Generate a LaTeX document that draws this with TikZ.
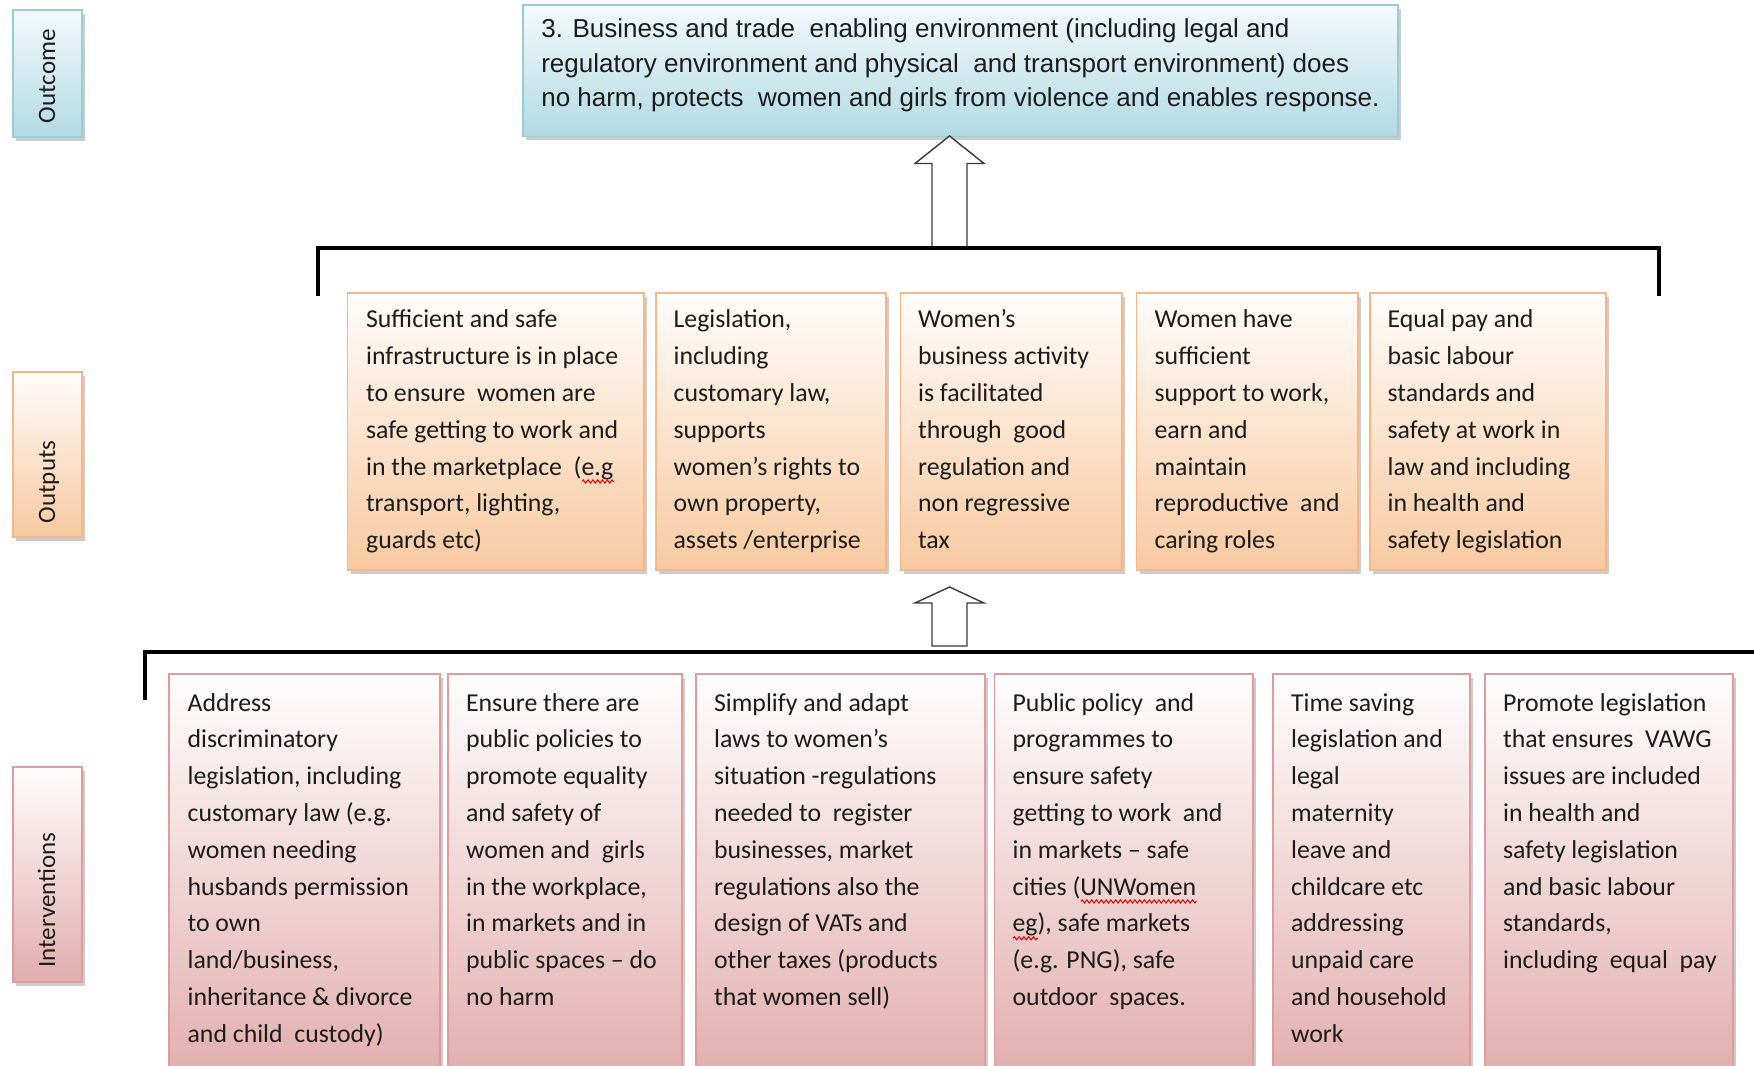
\documentclass[tikz,border=0pt]{standalone}
\usepackage{fontspec}
\setmainfont{Carlito}
\newfontfamily\arialfont{Liberation Sans}
\usetikzlibrary{shadows,fit,decorations.pathmorphing}
\definecolor{bluetop}{HTML}{F3FAFC}
\definecolor{bluebot}{HTML}{B2DAE4}
\definecolor{blueborder}{HTML}{9CCBD8}
\definecolor{peachtop}{HTML}{FFFDFB}
\definecolor{peachbot}{HTML}{F8C9A0}
\definecolor{peachborder}{HTML}{F3B78A}
\definecolor{pinktop}{HTML}{FFFEFE}
\definecolor{pinkbot}{HTML}{E2ACAC}
\definecolor{pinkborder}{HTML}{DE9C9C}
\definecolor{txt}{HTML}{1C1C1C}
\definecolor{arrowgray}{HTML}{3A3A3A}
\definecolor{wavered}{HTML}{E00000}
\newdimen\wavewd
\newcommand\redwave[1]{\setbox0\hbox{#1}\wavewd=\wd0\relax\rlap{\tikz[x=1pt,y=1pt,baseline=0pt]\draw[wavered,line width=0.5pt,decorate,decoration={zigzag,segment length=2.4pt,amplitude=0.8pt}] (0pt,-3.2pt) -- (\wavewd,-3.2pt);}#1}
\begin{document}
\begin{tikzpicture}[x=0.5pt,y=-0.5pt,
  shadowed/.style={drop shadow={shadow xshift=1.6pt,shadow yshift=-1.8pt,fill=black,opacity=0.2}},
  basebox/.style={rectangle,inner sep=0pt,line width=0.8pt,shadowed},
  bluebox/.style={basebox,draw=blueborder,top color=bluetop,bottom color=bluebot},
  peachbox/.style={basebox,draw=peachborder,top color=peachtop,bottom color=peachbot},
  pinkbox/.style={basebox,draw=pinkborder,top color=pinktop,bottom color=pinkbot},
  boxtext/.style={inner sep=0pt,align=left,anchor=north west,text=txt,font=\fontsize{12.9}{18.4}\selectfont},
  outtext/.style={inner sep=0pt,align=left,anchor=north west,text=txt,font=\arialfont\fontsize{13}{17.1}\selectfont},
  sidetext/.style={inner sep=0pt,rotate=90,anchor=base west,text=txt,font=\fontsize{12.5}{15}\selectfont},
  bracketline/.style={line width=2.4pt,black,line join=miter},
  blockarrow/.style={draw=arrowgray,fill=white,line width=0.7pt,line join=miter}
]
\clip (0,0) rectangle (1754,1065);
\fill[white] (0,0) rectangle (1754,1065);

% side labels
\node[bluebox,fit={(12.7,10) (82,137)}] (lOutcome) {};
\node[sidetext] (lOutcomeT) at (55,123.5) {Outcome};
\node[peachbox,fit={(12.7,372) (82,537)}] (lOutputs) {};
\node[sidetext] (lOutputsT) at (55,523.5) {Outputs};
\node[pinkbox,fit={(12.7,767) (82,982)}] (lInterv) {};
\node[sidetext] (lIntervT) at (55,968) {Interventions};

% outcome box
\node[bluebox,fit={(523,5) (1398,136.5)}] (oc) {};
\node[outtext] (ocT) at ([shift={(18.7,9.4)}]oc.north west) {\strut 3. Business and trade \ enabling environment (including legal and\\
regulatory environment and physical \ and transport environment) does\\
no harm, protects \ women and girls from violence and enables response.};

% arrows
\coordinate (a1tip) at (949.5,136);
\coordinate (a1foot) at (949.5,248);
\draw[blockarrow] (932,248) -- (932,163.5) -- (915,163.5) -- (a1tip) -- (984,163.5) -- (967,163.5) -- (967,248);
\coordinate (a2tip) at (949.5,587);
\draw[blockarrow] (932,646) -- (932,603) -- (915,603) -- (a2tip) -- (984,603) -- (967,603) -- (967,646) -- cycle;

% brackets
\draw[bracketline] (318,296) -- (318,248) -- (1659,248) -- (1659,296);
\draw[bracketline] (145,700) -- (145,652) -- (1760,652);

% outputs
\node[peachbox,fit={(347.5,293) (644,570)}] (o1) {};
\node[boxtext] (o1t) at ([shift={(19,9.5)}]o1.north west) {\strut Sufficient and safe\\
infrastructure is in place\\
to ensure \ women are\\
safe getting to work and\\
in the marketplace \ (\redwave{e.g}\\
transport, lighting,\\
guards etc)};
\node[peachbox,fit={(656,293) (886,570)}] (o2) {};
\node[boxtext] (o2t) at ([shift={(18,9.5)}]o2.north west) {\strut Legislation,\\
including\\
customary law,\\
supports\\
women’s rights to\\
own property,\\
assets /enterprise};
\node[peachbox,fit={(900.5,293) (1122,570)}] (o3) {};
\node[boxtext] (o3t) at ([shift={(18,9.5)}]o3.north west) {\strut Women’s\\
business activity\\
is facilitated\\
through \ good\\
regulation and\\
non regressive\\
tax};
\node[peachbox,fit={(1136.5,293) (1358,570)}] (o4) {};
\node[boxtext] (o4t) at ([shift={(18.5,9.5)}]o4.north west) {\strut Women have\\
sufficient\\
support to work,\\
earn and\\
maintain\\
reproductive \ and\\
caring roles};
\node[peachbox,fit={(1370,293) (1606,570)}] (o5) {};
\node[boxtext] (o5t) at ([shift={(18,9.5)}]o5.north west) {\strut Equal pay and\\
basic labour\\
standards and\\
safety at work in\\
law and including\\
in health and\\
safety legislation};

% interventions
\node[pinkbox,fit={(169,674) (440,1085)}] (i1) {};
\node[boxtext] (i1t) at ([shift={(19,11.7)}]i1.north west) {\strut Address\\
discriminatory\\
legislation, including\\
customary law (e.g.\\
women needing\\
husbands permission\\
to own\\
land/business,\\
inheritance \& divorce\\
and child \ custody)};
\node[pinkbox,fit={(448,674) (682,1085)}] (i2) {};
\node[boxtext] (i2t) at ([shift={(18.5,11.7)}]i2.north west) {\strut Ensure there are\\
public policies to\\
promote equality\\
and safety of\\
women and \ girls\\
in the workplace,\\
in markets and in\\
public spaces – do\\
no harm};
\node[pinkbox,fit={(696,674) (985,1085)}] (i3) {};
\node[boxtext] (i3t) at ([shift={(18.5,11.7)}]i3.north west) {\strut Simplify and adapt\\
laws to women’s\\
situation -regulations\\
needed to \ register\\
businesses, market\\
regulations also the\\
design of VATs and\\
other taxes (products\\
that women sell)};
\node[pinkbox,fit={(994.5,674) (1253,1085)}] (i4) {};
\node[boxtext] (i4t) at ([shift={(18.5,11.7)}]i4.north west) {\strut Public policy \ and\\
programmes to\\
ensure safety\\
getting to work \ and\\
in markets – safe\\
cities (\redwave{UNWomen}\\
\redwave{eg}), safe markets\\
(e.g. PNG), safe\\
outdoor \ spaces.};
\node[pinkbox,fit={(1273,674) (1470,1085)}] (i5) {};
\node[boxtext] (i5t) at ([shift={(18.5,11.7)}]i5.north west) {\strut Time saving\\
legislation and\\
legal\\
maternity\\
leave and\\
childcare etc\\
addressing\\
unpaid care\\
and household\\
work};
\node[pinkbox,fit={(1485,674) (1733,1085)}] (i6) {};
\node[boxtext] (i6t) at ([shift={(18.5,11.7)}]i6.north west) {\strut Promote legislation\\
that ensures \ VAWG\\
issues are included\\
in health and\\
safety legislation\\
and basic labour\\
standards,\\
including \ equal \ pay};
\end{tikzpicture}
\end{document}
